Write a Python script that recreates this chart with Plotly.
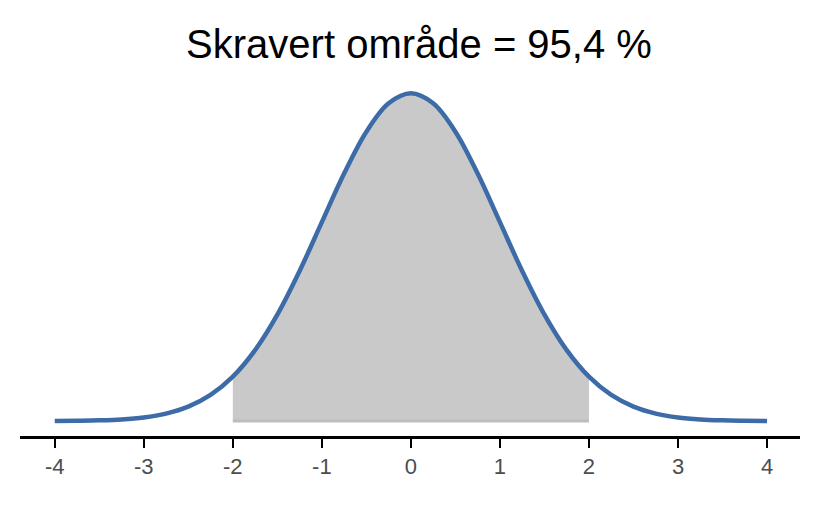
import plotly.graph_objects as go

# x positions and curve heights
x_vals = [-4, -3.75, -3.5, -3.25, -3, -2.75, -2.5, -2.25, -2, -1.75, -1.5, -1.25, -1, -0.75, -0.5, -0.25,
          0, 0.25, 0.5, 0.75, 1, 1.25, 1.5, 1.75, 2, 2.25, 2.5, 2.75, 3, 3.25, 3.5, 3.75, 4]
y_vals = [0.0001, 0.0004, 0.0009, 0.0020, 0.0044, 0.0091, 0.0175, 0.0317, 0.0540, 0.0863, 0.1295, 0.1826,
          0.2420, 0.3011, 0.3521, 0.3867, 0.3989, 0.3867, 0.3521, 0.3011, 0.2420, 0.1826, 0.1295, 0.0863,
          0.0540, 0.0317, 0.0175, 0.0091, 0.0044, 0.0020, 0.0009, 0.0004, 0.0001]
shade_from, shade_to = -2, 2
tick_vals = [-4, -3, -2, -1, 0, 1, 2, 3, 4]

sx = [x for x in x_vals if shade_from <= x <= shade_to]
sy = [y for x, y in zip(x_vals, y_vals) if shade_from <= x <= shade_to]

fig = go.Figure()
fig.add_trace(go.Scatter(x=sx, y=sy, mode="lines", fill="tozeroy", fillcolor="#c9c9c9",
                         line=dict(width=0, shape="spline"), hoverinfo="skip"))
fig.add_trace(go.Scatter(x=[shade_from, shade_to], y=[0, 0], mode="lines",
                         line=dict(color="#bdbdbd", width=3), hoverinfo="skip"))
fig.add_trace(go.Scatter(x=x_vals, y=y_vals, mode="lines",
                         line=dict(color="#3d6ba8", width=4.5, shape="spline")))

fig.update_layout(
    width=822, height=508, showlegend=False,
    paper_bgcolor="white", plot_bgcolor="white",
    margin=dict(l=12, r=30, t=72, b=80),
    font=dict(family="Liberation Sans, Arial, sans-serif"),
    title=dict(text="Skravert område = 95,4 %", x=0.5, xanchor="center", y=0.93, yanchor="middle",
               font=dict(size=40, color="black")),
    xaxis=dict(range=[-4.39, 4.37], tickvals=tick_vals, ticktext=[str(t) for t in tick_vals],
               showgrid=False, zeroline=False, showline=True, linecolor="black", linewidth=2.5,
               ticks="outside", ticklen=9, tickwidth=2, tickcolor="black",
               tickfont=dict(size=22, color="#4d4d4d")),
    yaxis=dict(range=[-0.0182, 0.415], visible=False, showgrid=False, zeroline=False),
)

fig.write_html("out.html")
